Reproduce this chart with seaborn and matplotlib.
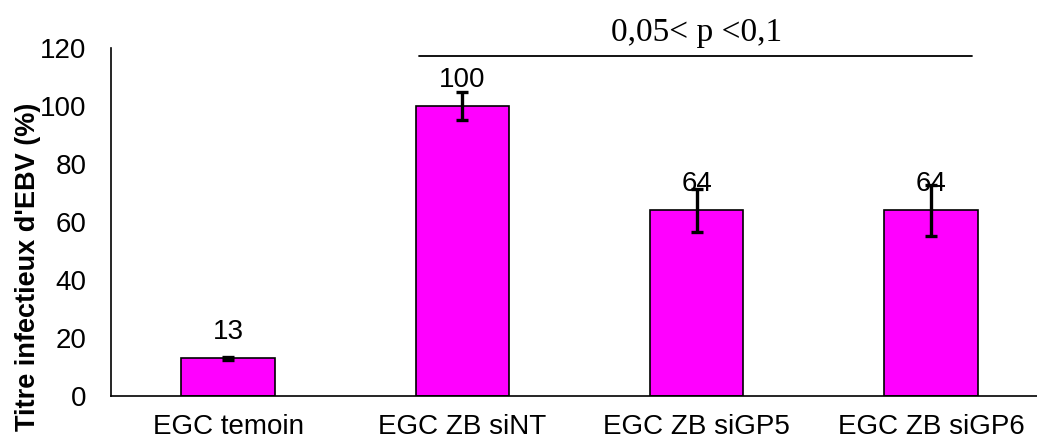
import matplotlib
matplotlib.use("Agg")
import matplotlib.pyplot as plt
import seaborn as sns
import pandas as pd
import numpy as np

groups = ["EGC temoin", "EGC ZB siNT", "EGC ZB siGP5", "EGC ZB siGP6"]
titre = [13, 100, 64, 64]
erreur = [0.5, 4.8, 7.3, 8.7]
sig_text = "0,05< p <0,1"

df = pd.DataFrame({"groupe": groups, "titre": titre})

sns.set_style("white")
plt.rcParams["font.family"] = ["Liberation Sans", "DejaVu Sans"]
plt.rcParams["text.color"] = "black"
plt.rcParams["axes.labelcolor"] = "black"
plt.rcParams["xtick.color"] = "black"
plt.rcParams["ytick.color"] = "black"

fig = plt.figure(figsize=(10.37, 4.46), dpi=100)
ax = fig.add_axes([111 / 1037, 50 / 446, 937 / 1037, 348 / 446])

sns.barplot(data=df, x="groupe", y="titre", color="#FF00FF", saturation=1,
            width=0.4, edgecolor="black", linewidth=1.2, errorbar=None, ax=ax)
xpos = np.arange(len(groups))
ax.errorbar(xpos, titre, yerr=erreur, fmt="none", ecolor="black",
            elinewidth=2.4, capsize=4.5, capthick=2.4, zorder=5)

for x, v in zip(xpos, titre):
    ax.annotate(str(v), (x, v), xytext=(0, 19), textcoords="offset points",
                ha="center", va="center", fontsize=20, zorder=6)

# significance bar between siNT and the siGP groups
ax.plot([0.816, 3.175], [117.4, 117.4], color="black", lw=1.3, clip_on=False)
ax.text(2.0, 125.3, sig_text, ha="center", va="center", fontsize=24,
        family=["Liberation Serif", "DejaVu Serif"])

ax.set_xlim(-0.5, 3.5)
ax.set_ylim(0, 120)
ax.set_yticks(range(0, 121, 20))
ax.set_xticks(xpos)
ax.set_xticks(np.arange(-0.5, 3.6, 1), minor=True)
ax.tick_params(axis="x", which="major", length=0, pad=13, labelsize=20)
ax.tick_params(axis="x", which="minor", length=6.5, width=1.2, direction="out", color="black")
ax.tick_params(axis="y", length=5.5, width=1.2, direction="out", color="black", labelsize=20, pad=12)
ax.set_xlabel("")
ax.set_ylabel("Titre infectieux d'EBV (%)", fontsize=19.5, fontweight="bold")
ax.yaxis.set_label_coords(-0.075, 0.37)

for side in ["top", "right"]:
    ax.spines[side].set_visible(False)
for side in ["left", "bottom"]:
    ax.spines[side].set_color("black")
    ax.spines[side].set_linewidth(1.2)

fig.savefig("out.png", dpi=100)
